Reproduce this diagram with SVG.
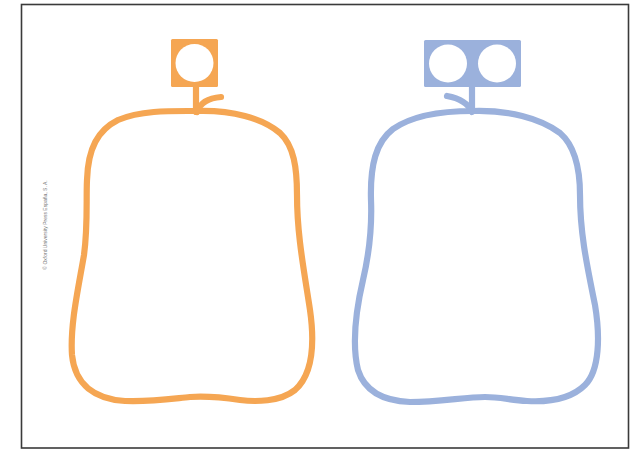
<svg xmlns="http://www.w3.org/2000/svg" width="636" height="449" viewBox="0 0 636 449">
<style>
.or{fill:none;stroke:#F5A653;stroke-width:6.2;stroke-linecap:round;stroke-linejoin:round}
.bl{fill:none;stroke:#9BB1DC;stroke-width:6.2;stroke-linecap:round;stroke-linejoin:round}
.hole{fill:#ffffff}
.copy{font-family:"Liberation Sans",Arial,sans-serif;font-size:5px;fill:#777777}
</style>
<rect x="0" y="0" width="636" height="449" fill="#ffffff"/>
<rect id="frame" x="21.5" y="4.5" width="607" height="443.5" fill="none" stroke="#3a3a3a" stroke-width="1.6"/>
<text class="copy" transform="translate(47,225) rotate(-90)" text-anchor="middle">© Oxford University Press España, S. A.</text>
<g id="connectors">
<path class="or" d="M196,87 L196,112"/>
<path class="or" d="M197,112 C200,103 208,98 221,97"/>
<path class="bl" d="M472,87 L472,111"/>
<path class="bl" d="M472,112 C468,103 458,98 447,96"/>
</g>
<g id="node-orange-box">
<rect x="171" y="39" width="47" height="48" rx="1.5" fill="#F5A653"/>
<circle class="hole" cx="194.5" cy="63" r="19"/>
</g>
<g id="node-blue-box">
<rect x="424" y="40" width="97" height="47" rx="1.5" fill="#9BB1DC"/>
<circle class="hole" cx="448" cy="63.5" r="19"/>
<circle class="hole" cx="497" cy="63.5" r="19"/>
</g>
<g id="node-orange-pear">
<path class="or" d="M197,111 C232,110 262,118 280,133 C294,146 297,168 297,195 C297,235 304,270 310,310 C315,345 312,375 295,390 C280,402 255,402 240,400 C220,397 205,396 190,397 C170,399 150,402 125,401 C95,399 75,385 72,355 C70,325 78,290 84,255 C88,225 86,200 87,180 C88,148 98,130 118,120 C142,110 172,111 197,111 Z"/>
</g>
<g id="node-blue-pear">
<path class="bl" d="M473,111 C508,110 540,118 560,133 C575,146 580,168 580,195 C580,235 588,270 595,305 C600,335 600,370 585,385 C570,400 545,402 527,401 C510,400 500,397 485,397 C465,397 440,402 410,402 C385,401 365,392 358,370 C352,345 356,310 363,280 C370,250 372,225 371,200 C370,165 376,142 393,129 C413,115 445,111 473,111 Z"/>
</g>
</svg>
